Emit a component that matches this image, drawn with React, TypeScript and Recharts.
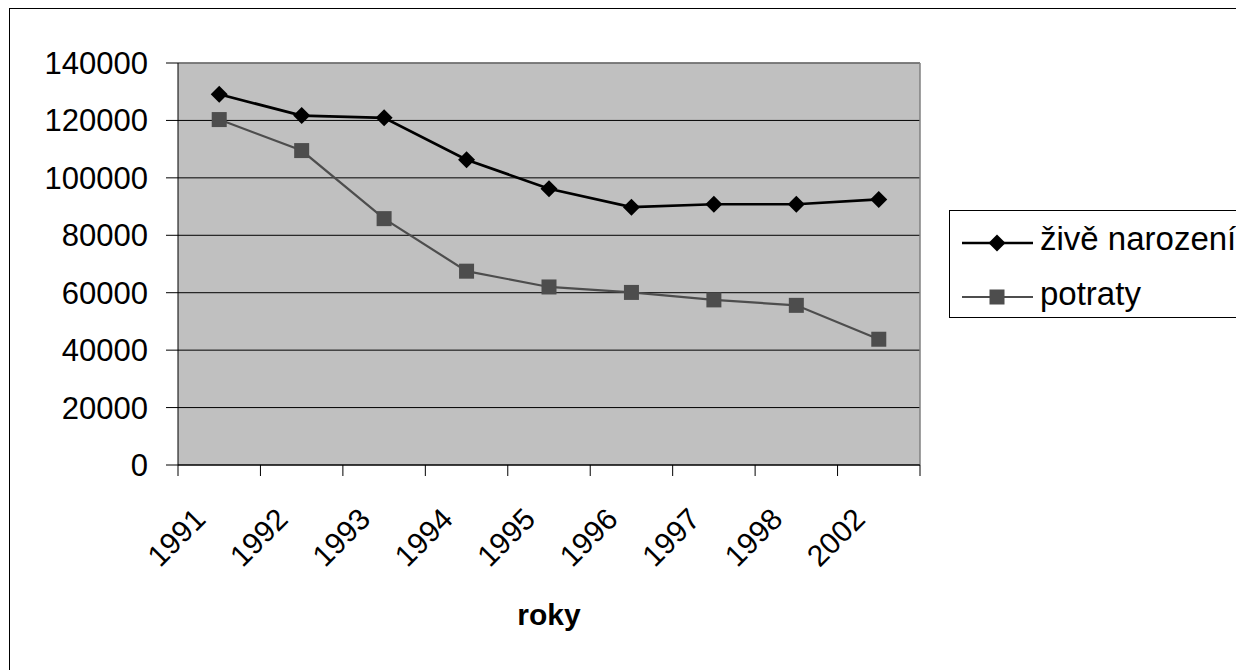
import { LineChart, Line, XAxis, YAxis, CartesianGrid, Legend } from "recharts"

const years = ["1991", "1992", "1993", "1994", "1995", "1996", "1997", "1998", "2002"]
const liveBirths = [129100, 121700, 120900, 106300, 96200, 89800, 90800, 90800, 92500]
const abortions = [120300, 109500, 85800, 67500, 62000, 60100, 57500, 55600, 43800]
const yTicks = [0, 20000, 40000, 60000, 80000, 100000, 120000, 140000]
const seriesNames = ["živě narození", "potraty"]

const FONT = "'Liberation Sans', Arial, sans-serif"

const data = years.map((year, i) => ({
  year,
  zive: liveBirths[i],
  potraty: abortions[i],
}))

function Diamond(props: any) {
  const { cx, cy } = props
  if (cx == null || cy == null) return null
  const r = 8.5
  return (
    <polygon
      key={`d-${props.index}`}
      points={`${cx},${cy - r} ${cx + r},${cy} ${cx},${cy + r} ${cx - r},${cy}`}
      fill="#000"
    />
  )
}

function Square(props: any) {
  const { cx, cy } = props
  if (cx == null || cy == null) return null
  return <rect key={`s-${props.index}`} x={cx - 7.5} y={cy - 7.5} width={15} height={15} fill="#4d4d4d" />
}

// label at the band centre, tick marks on the band edges (Excel style)
function YearTick(props: any) {
  const { x, y, payload, index, visibleTicksCount } = props
  const half = payload.offset || 0
  const ax = x - 12
  const ay = y + 56
  const isLast = index === visibleTicksCount - 1
  return (
    <g>
      <line x1={x - half} x2={x - half} y1={y} y2={y + 11} stroke="#000" strokeWidth={1} />
      {isLast && <line x1={x + half} x2={x + half} y1={y} y2={y + 11} stroke="#000" strokeWidth={1} />}
      <text
        x={ax}
        y={ay}
        transform={`rotate(-45, ${ax}, ${ay})`}
        textAnchor="end"
        fill="#000"
        fontSize={30}
        fontFamily={FONT}
      >
        {payload.value}
      </text>
    </g>
  )
}

function LegendBox() {
  return (
    <svg width={300} height={110} style={{ display: "block", overflow: "visible" }}>
      <rect x={0.5} y={0.5} width={340} height={107} fill="#fff" stroke="#000" strokeWidth={1} />
      <line x1={13} x2={84} y1={33} y2={33} stroke="#000" strokeWidth={2.7} />
      <polygon points="48,24.5 56.5,33 48,41.5 39.5,33" fill="#000" />
      <text x={91} y={40} fontSize={33} fontFamily={FONT} fill="#000">
        {seriesNames[0]}
      </text>
      <line x1={13} x2={84} y1={87} y2={87} stroke="#4d4d4d" strokeWidth={2.2} />
      <rect x={40.5} y={79.5} width={15} height={15} fill="#4d4d4d" />
      <text x={91} y={95} fontSize={33} fontFamily={FONT} fill="#000">
        {seriesNames[1]}
      </text>
    </svg>
  )
}

export default function App() {
  return (
    <div style={{ position: "fixed", left: 0, top: 0, width: 1236, height: 670, overflow: "hidden", background: "#fff" }}>
      <div
        style={{
          position: "absolute",
          left: 9,
          top: 8,
          width: 1300,
          height: 700,
          borderLeft: "1px solid #000",
          borderTop: "1px solid #000",
        }}
      />
      <div style={{ position: "absolute", left: 0, top: 0 }}>
        <LineChart width={1236} height={670} data={data} margin={{ top: 63, right: 316, bottom: 0, left: 0 }}>
          <XAxis
            xAxisId="main"
            dataKey="year"
            scale="band"
            height={205}
            interval={0}
            tickLine={false}
            tickSize={0}
            tickMargin={0}
            axisLine={{ stroke: "#000", strokeWidth: 1 }}
            tick={<YearTick />}
            label={{
              value: "roky",
              position: "insideBottom",
              offset: 45,
              style: { fontSize: 30, fontWeight: "bold", fill: "#000", fontFamily: FONT },
            }}
          />
          <YAxis
            domain={[0, 140000]}
            ticks={yTicks}
            interval={0}
            width={178}
            tickSize={12}
            tickMargin={18}
            axisLine={{ stroke: "#000", strokeWidth: 1 }}
            tickLine={{ stroke: "#000", strokeWidth: 1 }}
            tick={{ fill: "#000", fontSize: 31, fontFamily: FONT }}
          />
          <CartesianGrid xAxisId="main" vertical={false} stroke="#000" fill="#c0c0c0" fillOpacity={1} />
          <CartesianGrid
            xAxisId="main"
            stroke="#808080"
            strokeWidth={1.5}
            horizontalCoordinatesGenerator={({ offset }: any) => [offset.top]}
            verticalCoordinatesGenerator={({ offset }: any) => [offset.left + offset.width]}
          />
          <Line
            xAxisId="main"
            type="linear"
            dataKey="zive"
            name={seriesNames[0]}
            stroke="#000"
            strokeWidth={2.7}
            dot={<Diamond />}
            activeDot={false}
            isAnimationActive={false}
          />
          <Line
            xAxisId="main"
            type="linear"
            dataKey="potraty"
            name={seriesNames[1]}
            stroke="#4d4d4d"
            strokeWidth={2.2}
            dot={<Square />}
            activeDot={false}
            isAnimationActive={false}
          />
          <Legend
            layout="vertical"
            align="center"
            verticalAlign="middle"
            wrapperStyle={{ left: 949, top: 210, width: 300, height: 110 }}
            content={() => <LegendBox />}
          />
        </LineChart>
      </div>
    </div>
  )
}
